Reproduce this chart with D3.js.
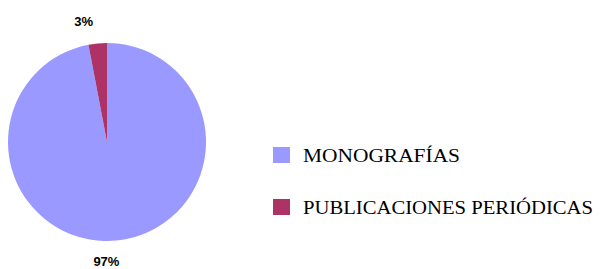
<!DOCTYPE html>
<html>
<head>
<meta charset="utf-8">
<script src="https://cdn.jsdelivr.net/npm/d3@7"></script>
<style>
body{margin:0;background:#fff;}
</style>
</head>
<body>
<div class="chart_area"></div>
<script>
// categories / values / colours
let categories = ["MONOGRAFÍAS", "PUBLICACIONES PERIÓDICAS"];
let values = [97, 3];
let labels = ["97%", "3%"];
let colors = ["#9999FF", "#AD3366"];

const W = 605, H = 269;
let svg = d3.select(".chart_area")
    .append("svg")
    .attr("width", W)
    .attr("height", H);

let cx = 107, cy = 142, r = 99;

let pie = d3.pie().sort(null).value(d => d);
let arcs = pie(values);
let arc = d3.arc().innerRadius(0).outerRadius(r);
let labelArc = d3.arc().innerRadius(r + 22).outerRadius(r + 22);

let g = svg.append("g")
    .attr("transform", "translate(" + cx + "," + cy + ")");

g.selectAll(".slice")
    .data(arcs)
    .enter()
    .append("path")
    .attr("class", "slice")
    .attr("d", arc)
    .attr("fill", (d, i) => colors[i]);

g.selectAll(".lbl")
    .data(arcs)
    .enter()
    .append("text")
    .attr("class", "lbl")
    .attr("x", d => labelArc.centroid(d)[0] - 12)
    .attr("y", d => labelArc.centroid(d)[1] + 4)
    .attr("text-anchor", "middle")
    .style("font-family", "Liberation Sans, Arial, sans-serif")
    .style("font-weight", "bold")
    .style("font-size", "13px")
    .text((d, i) => labels[i]);

// legend
let legend = svg.append("g").attr("transform", "translate(273,147)");
let legW = [157, 290];
let item = legend.selectAll(".leg")
    .data(categories)
    .enter()
    .append("g")
    .attr("class", "leg")
    .attr("transform", (d, i) => "translate(0," + (i * 52) + ")");
item.append("rect")
    .attr("width", 17)
    .attr("height", 16)
    .attr("fill", (d, i) => colors[i]);
item.append("text")
    .attr("x", 30)
    .attr("y", 15)
    .attr("textLength", (d, i) => legW[i])
    .attr("lengthAdjust", "spacingAndGlyphs")
    .style("font-family", "Liberation Serif, Times New Roman, serif")
    .style("font-size", "19px")
    .text(d => d);
</script>
</body>
</html>
